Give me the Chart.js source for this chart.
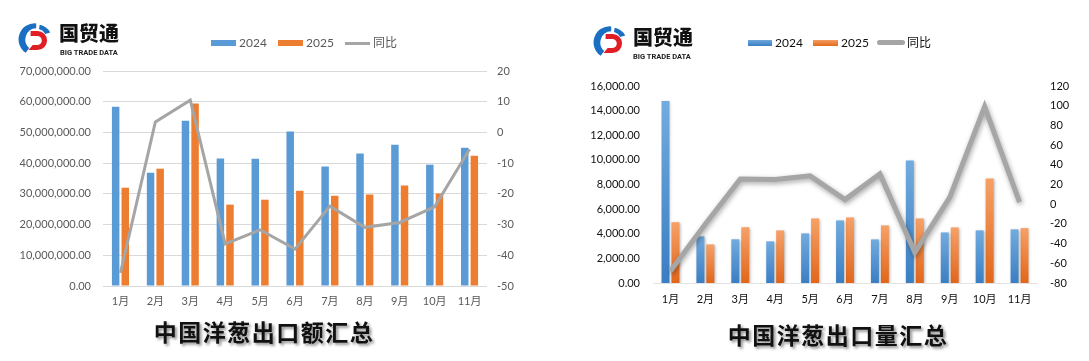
<!DOCTYPE html>
<html>
<head>
<meta charset="utf-8">
<script src="https://cdn.jsdelivr.net/npm/chart.js@4.4.1/dist/chart.umd.min.js"></script>
<style>
  html, body { margin:0; padding:0; background:#fff; }
  body { width:1089px; height:361px; position:relative; overflow:hidden; font-family:"Lato","Noto Sans CJK SC",sans-serif; }
  canvas { position:absolute; top:0; }
  .logo { position:absolute; }
  .logo svg { position:absolute; }
  .logo .cn { position:absolute; font-family:"Noto Sans CJK SC"; font-weight:900; color:#111; white-space:nowrap; }
  .logo .en { position:absolute; font-family:"Roboto","Liberation Sans",sans-serif; font-weight:700; color:#222; white-space:nowrap; }
  .legend { position:absolute; height:14px; font-size:12px; }
  .legend .item { position:absolute; top:0; height:14px; line-height:14px; white-space:nowrap; }
  .legend .sw { position:absolute; }
  .title { position:absolute; font-family:"Noto Sans CJK SC"; font-weight:700; color:#111; white-space:nowrap;
           text-shadow: 2px 2px 3px rgba(0,0,0,0.45); transform:translate(-50%,-50%); }
</style>
</head>
<body>
<canvas id="c1" width="545" height="320" style="left:0"></canvas>
<canvas id="c2" width="544" height="320" style="left:545px"></canvas>

<!-- logos -->
<div class="logo" style="left:18px;top:22px;width:110px;height:40px">
  <svg width="35" height="35" viewBox="0 0 100 100" style="left:0;top:0">
    <path d="M52 4 A46 46 0 0 0 22 88 L32 74 A32 32 0 0 1 52 18 Z" fill="#1b6fc2"/>
    <path d="M62 8 A44 44 0 0 1 92 30 L78 34 A30 30 0 0 0 60 20 Z" fill="#1b6fc2"/>
    <path d="M36 26 H56 A27 27 0 0 1 56 80 H30 L42 66 H55 A13 13 0 0 0 55 40 H36 Z" fill="#e01e25"/>
  </svg>
  <div class="cn" style="left:41px;top:0px;font-size:20px;line-height:22px">国贸通</div>
  <div class="en" style="left:42px;top:26px;font-size:7.5px;line-height:9px">BIG TRADE DATA</div>
</div>
<div class="logo" style="left:593px;top:24px;width:110px;height:40px">
  <svg width="35" height="35" viewBox="0 0 100 100" style="left:0;top:1px">
    <path d="M52 4 A46 46 0 0 0 22 88 L32 74 A32 32 0 0 1 52 18 Z" fill="#1b6fc2"/>
    <path d="M62 8 A44 44 0 0 1 92 30 L78 34 A30 30 0 0 0 60 20 Z" fill="#1b6fc2"/>
    <path d="M36 26 H56 A27 27 0 0 1 56 80 H30 L42 66 H55 A13 13 0 0 0 55 40 H36 Z" fill="#e01e25"/>
  </svg>
  <div class="cn" style="left:40px;top:2px;font-size:20px;line-height:22px">国贸通</div>
  <div class="en" style="left:40px;top:28px;font-size:7.5px;line-height:9px">BIG TRADE DATA</div>
</div>

<!-- legends -->
<div class="legend" style="left:0;top:36px;color:#595959">
  <div class="item" style="left:211px"><span class="sw" style="left:0;top:4px;width:25px;height:6px;background:#5b9bd5"></span><span style="position:absolute;left:28px">2024</span></div>
  <div class="item" style="left:278px"><span class="sw" style="left:0;top:4px;width:25px;height:6px;background:#ed7d31"></span><span style="position:absolute;left:28px">2025</span></div>
  <div class="item" style="left:345px"><span class="sw" style="left:0;top:5.5px;width:25px;height:3px;background:#a5a5a5"></span><span style="position:absolute;left:28px">同比</span></div>
</div>
<div class="legend" style="left:0;top:36px;color:#111">
  <div class="item" style="left:748px"><span class="sw" style="left:0;top:4px;width:24px;height:6px;background:linear-gradient(#70a9dd,#3b7fc4)"></span><span style="position:absolute;left:27px">2024</span></div>
  <div class="item" style="left:813px"><span class="sw" style="left:0;top:4px;width:25px;height:6px;background:linear-gradient(#f59e64,#e3691c)"></span><span style="position:absolute;left:28px">2025</span></div>
  <div class="item" style="left:877px"><span class="sw" style="left:0;top:4px;width:28px;height:5px;border-radius:3px;background:#a5a5a5"></span><span style="position:absolute;left:30px">同比</span></div>
</div>

<!-- titles -->
<div class="title" style="left:264px;top:331px;font-size:23px;letter-spacing:1.5px">中国洋葱出口额汇总</div>
<div class="title" style="left:838px;top:334px;font-size:23px;letter-spacing:1.5px">中国洋葱出口量汇总</div>

<script>
// ---------- data ----------
const months = ['1月','2月','3月','4月','5月','6月','7月','8月','9月','10月','11月'];

// 出口额 (value)
const value2024 = [58400000, 36900000, 53800000, 41500000, 41400000, 50300000, 38900000, 43100000, 46000000, 39500000, 45000000];
const value2025 = [32000000, 38200000, 59400000, 26500000, 28100000, 31000000, 29400000, 29800000, 32700000, 30100000, 42400000];
const valueYoy  = [-45.7, 3.4, 10.5, -36.3, -31.7, -38.0, -24.0, -30.9, -29.3, -24.2, -5.5];

// 出口量 (quantity)
const qty2024 = [14780, 3786, 3550, 3379, 4027, 5081, 3541, 9943, 4108, 4275, 4356];
const qty2025 = [4940, 3135, 4530, 4270, 5243, 5324, 4676, 5243, 4513, 8485, 4462];
const qtyYoy  = [-67.8, -20.0, 25.5, 25.0, 28.8, 4.7, 30.8, -48.9, 7.0, 99.0, 2.0];

// axis ranges / tick steps
const valueAxis = {min: 0, max: 70000000, step: 10000000};
const valueYoyAxis = {min: -50, max: 20, step: 10};
const qtyAxis = {min: 0, max: 16000, step: 2000};
const qtyYoyAxis = {min: -80, max: 120, step: 20};

// ---------- helpers ----------
const fmt2 = v => Number(v).toLocaleString('en-US', {minimumFractionDigits: 2, maximumFractionDigits: 2});

const shadowPlugin = {
  id: 'shadowPlugin',
  beforeDatasetDraw(chart, args, opts) {
    const s = opts && opts.shadows && opts.shadows[args.index];
    chart.ctx.save();
    if (s) {
      chart.ctx.shadowColor = s.color;
      chart.ctx.shadowBlur = s.blur;
      chart.ctx.shadowOffsetX = s.x || 0;
      chart.ctx.shadowOffsetY = s.y || 0;
    }
  },
  afterDatasetDraw(chart) { chart.ctx.restore(); }
};

function barGradient(top, bottom) {
  return (ctx) => {
    const chart = ctx.chart;
    const area = chart.chartArea;
    if (!area || ctx.type !== 'data') return bottom;
    const sc = chart.scales.y;
    const y0 = sc.getPixelForValue(0);
    const y1 = sc.getPixelForValue(ctx.raw);
    if (!isFinite(y0) || !isFinite(y1) || Math.abs(y0 - y1) < 1) return bottom;
    const g = chart.ctx.createLinearGradient(0, y1, 0, y0);
    g.addColorStop(0, top);
    g.addColorStop(1, bottom);
    return g;
  };
}

Chart.defaults.font.family = 'Lato, "Noto Sans CJK SC", sans-serif';
Chart.defaults.font.size = 11;
Chart.defaults.animation = false;

// ---------- chart 1 : 出口额 ----------
new Chart(document.getElementById('c1'), {
  type: 'bar',
  data: {
    labels: months,
    datasets: [
      { type: 'line', label: '同比', data: valueYoy, yAxisID: 'y1', order: 0,
        borderColor: '#a5a5a5', borderWidth: 3, pointRadius: 0, tension: 0, fill: false },
      { label: '2024', data: value2024, yAxisID: 'y', order: 1, backgroundColor: '#5b9bd5',
        barPercentage: 0.78, categoryPercentage: 0.55 },
      { label: '2025', data: value2025, yAxisID: 'y', order: 1, backgroundColor: '#ed7d31',
        barPercentage: 0.78, categoryPercentage: 0.55 }
    ]
  },
  options: {
    responsive: false,
    devicePixelRatio: 1,
    layout: { padding: { top: 71, bottom: 4, left: 0, right: 0 } },
    plugins: { legend: { display: false }, tooltip: { enabled: false } },
    scales: {
      x: {
        grid: { display: false, drawTicks: false },
        border: { display: false },
        ticks: { color: '#595959', padding: 9, autoSkip: false, maxRotation: 0 },
        afterFit: s => { s.height = 30; }
      },
      y: {
        position: 'left', min: valueAxis.min, max: valueAxis.max,
        grid: { color: '#d9d9d9', drawTicks: false },
        border: { display: false },
        ticks: { stepSize: valueAxis.step, color: '#595959', padding: 12, autoSkip: false, callback: v => fmt2(v) },
        afterFit: s => { s.width = 103; }
      },
      y1: {
        position: 'right', min: valueYoyAxis.min, max: valueYoyAxis.max,
        grid: { display: false, drawTicks: false },
        border: { display: false },
        ticks: { stepSize: valueYoyAxis.step, color: '#595959', padding: 10, autoSkip: false },
        afterFit: s => { s.width = 58; }
      }
    }
  }
});

// ---------- chart 2 : 出口量 ----------
new Chart(document.getElementById('c2'), {
  type: 'bar',
  plugins: [shadowPlugin],
  data: {
    labels: months,
    datasets: [
      { type: 'line', label: '同比', data: qtyYoy, yAxisID: 'y1', order: 0,
        borderColor: '#a6a6a6', borderWidth: 5, pointRadius: 0, tension: 0, fill: false,
        borderJoinStyle: 'miter' },
      { label: '2024', data: qty2024, yAxisID: 'y', order: 1, backgroundColor: barGradient('#72abde', '#3a7ec3'),
        barPercentage: 0.8, categoryPercentage: 0.57 },
      { label: '2025', data: qty2025, yAxisID: 'y', order: 1, backgroundColor: barGradient('#f6a168', '#e2661a'),
        barPercentage: 0.8, categoryPercentage: 0.57 }
    ]
  },
  options: {
    responsive: false,
    devicePixelRatio: 1,
    layout: { padding: { top: 86, bottom: 7, left: 0, right: 0 } },
    plugins: {
      legend: { display: false }, tooltip: { enabled: false },
      shadowPlugin: { shadows: [
        { color: 'rgba(0,0,0,0.35)', blur: 5, x: 1, y: 2 },
        { color: 'rgba(0,0,0,0.3)', blur: 3, x: 1, y: 1 },
        { color: 'rgba(0,0,0,0.3)', blur: 3, x: 1, y: 1 }
      ] }
    },
    scales: {
      x: {
        grid: { display: false, drawTicks: false },
        border: { display: true, color: '#e3e3e3' },
        ticks: { color: '#111', padding: 10, autoSkip: false, maxRotation: 0 },
        afterFit: s => { s.height = 30; }
      },
      y: {
        position: 'left', min: qtyAxis.min, max: qtyAxis.max,
        grid: { display: false, drawTicks: false },
        border: { display: false },
        ticks: { stepSize: qtyAxis.step, color: '#111', padding: 13, autoSkip: false, callback: v => fmt2(v) },
        afterFit: s => { s.width = 108; }
      },
      y1: {
        position: 'right', min: qtyYoyAxis.min, max: qtyYoyAxis.max,
        grid: { display: false, drawTicks: false },
        border: { display: false },
        ticks: { stepSize: qtyYoyAxis.step, color: '#111', padding: 13, autoSkip: false },
        afterFit: s => { s.width = 52; }
      }
    }
  }
});
</script>
</body>
</html>
